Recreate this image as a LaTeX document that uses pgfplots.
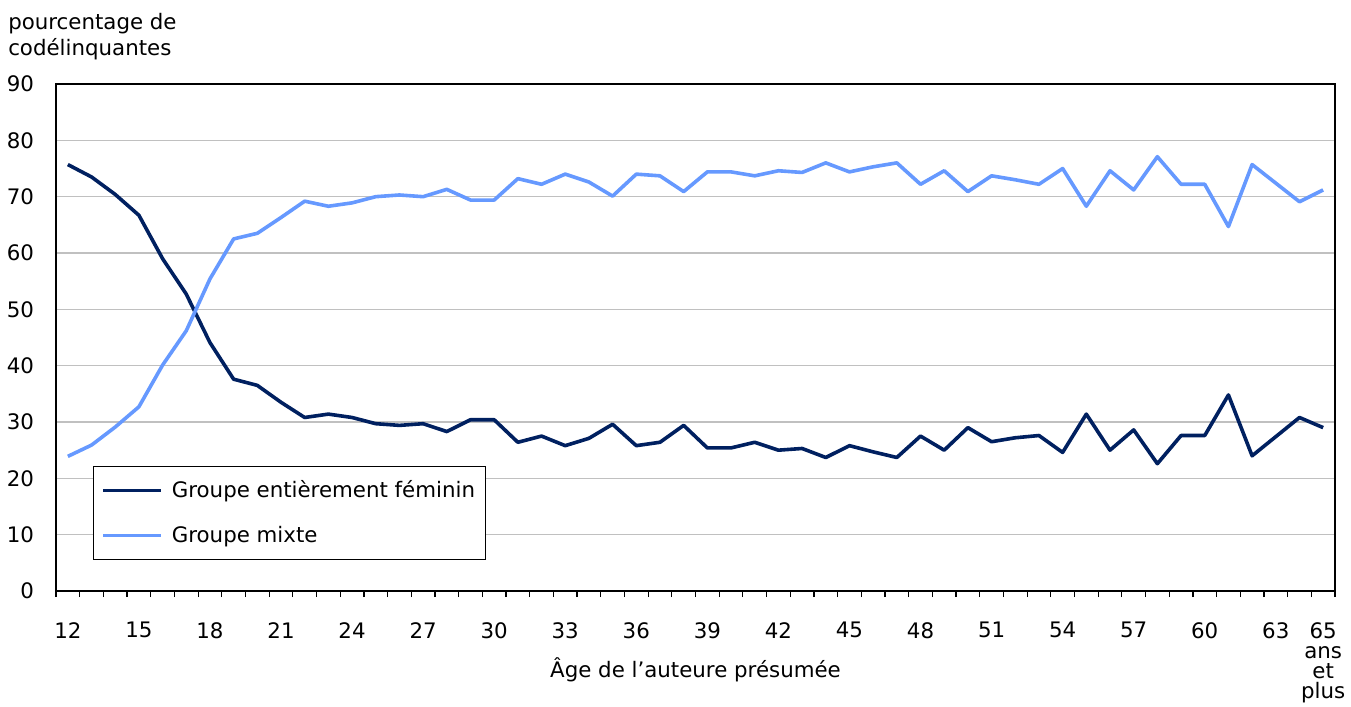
\documentclass[border=0pt]{standalone}
\usepackage{fontspec}
\setmainfont{DejaVu Sans}
\usepackage{pgfplots}
\usepackage{pgfplotstable}
\pgfplotsset{compat=1.18}

\definecolor{femin}{RGB}{0,32,96}
\definecolor{mixte}{RGB}{102,153,255}
\definecolor{grille}{RGB}{192,192,192}

% pourcentage de codelinquantes selon l'age
\pgfplotstableread{
age femin mixte
12 75.7 23.9
13 73.5 25.9
14 70.4 29.1
15 66.7 32.7
16 59.0 40.1
17 52.7 46.2
18 44.1 55.4
19 37.6 62.5
20 36.5 63.5
21 33.5 66.3
22 30.8 69.2
23 31.4 68.3
24 30.8 68.9
25 29.7 70.0
26 29.4 70.3
27 29.7 70.0
28 28.3 71.3
29 30.4 69.4
30 30.4 69.4
31 26.4 73.2
32 27.5 72.2
33 25.8 74.0
34 27.1 72.6
35 29.6 70.1
36 25.8 74.0
37 26.4 73.7
38 29.4 70.9
39 25.4 74.4
40 25.4 74.4
41 26.4 73.7
42 25.0 74.6
43 25.3 74.3
44 23.7 76.0
45 25.8 74.4
46 24.7 75.3
47 23.7 76.0
48 27.5 72.2
49 25.0 74.6
50 29.0 70.9
51 26.5 73.7
52 27.2 73.0
53 27.6 72.2
54 24.6 75.0
55 31.4 68.3
56 25.0 74.6
57 28.6 71.2
58 22.6 77.1
59 27.6 72.2
60 27.6 72.2
61 34.8 64.7
62 24.0 75.7
63 27.4 72.4
64 30.8 69.1
65 29.0 71.2
}\donnees

\begin{document}
\begin{tikzpicture}
\path[use as bounding box] (-42pt,-86.25pt) rectangle (971.25pt,443.25pt);
\begin{axis}[
  at={(0,0)}, anchor=south west,
  scale only axis,
  width=959.25pt, height=380.25pt,
  font=\fontsize{16}{19}\selectfont,
  /pgf/number format/assume math mode=true,
  xmin=11.5, xmax=65.5,
  ymin=0, ymax=90,
  xtick={12,15,...,63,65},
  xticklabels={12,15,18,21,24,27,30,33,36,39,42,45,48,51,54,57,60,63,{65\\ans\\et\\plus}},
  minor xtick={11.5,12.5,...,65.5},
  ytick={0,10,...,90},
  xtick pos=lower, ytick pos=left,
  tick align=outside,
  major tick length=0pt,
  minor tick length=4.5pt,
  every tick/.style={black, line width=0.9pt},
  xticklabel style={align=center, font=\fontsize{16}{15}\selectfont, yshift=-20pt},
  yticklabel style={xshift=-13pt},
  ymajorgrids,
  major grid style={grille, line width=0.9pt},
  axis line style={black, line width=1.1pt},
  xlabel={Âge de l’auteure présumée},
  xlabel style={at={(rel axis cs:0.5,0)}, anchor=center, yshift=-59pt},
  clip=false,
  legend cell align=left,
  legend image code/.code={\draw[#1] (0pt,0pt) -- (43pt,0pt);},
  legend style={at={(0.0289,0.0611)}, anchor=south west,
    draw=black, line width=0.9pt, fill=white,
    inner xsep=6pt, inner ysep=9pt, row sep=16pt,
    font=\fontsize{16}{19}\selectfont,
    /tikz/every odd column/.style={column sep=5pt}},
]
\addplot[femin, line width=2.7pt, line join=round] table[x=age, y=femin] {\donnees};
\addlegendentry{Groupe entièrement féminin}
\addplot[mixte, line width=2.7pt, line join=round] table[x=age, y=mixte] {\donnees};
\addlegendentry{Groupe mixte}
\node[anchor=north west, align=left, inner sep=0pt, font=\fontsize{16}{19}\selectfont]
  at (rel axis cs:0,1) [xshift=-36pt, yshift=53pt] {pourcentage de\\codélinquantes};
\end{axis}
\end{tikzpicture}
\end{document}
